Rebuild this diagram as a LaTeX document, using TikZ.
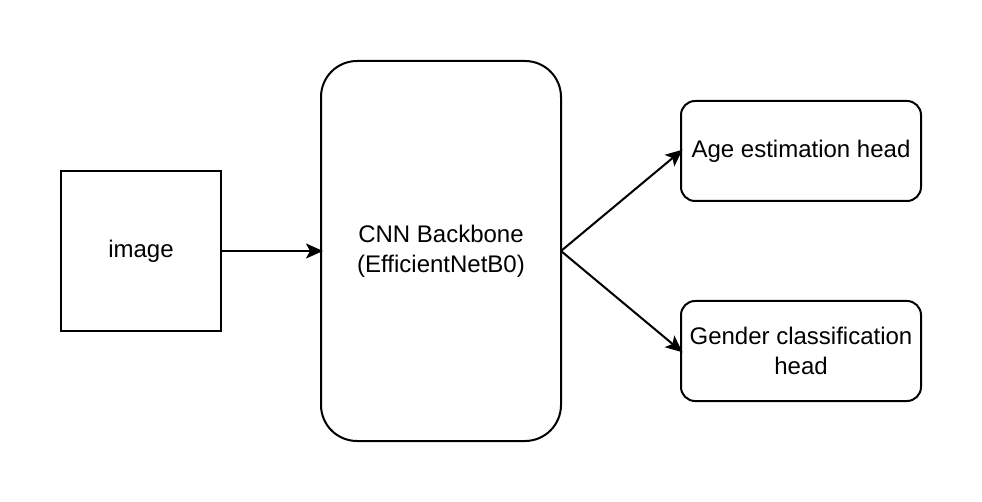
\documentclass[tikz,border=0pt]{standalone}
\usepackage{fontspec}
\setmainfont{Liberation Sans}
\usetikzlibrary{arrows.meta}
\begin{document}
\begin{tikzpicture}[x=1pt,y=-1pt,
  box/.style={draw=black,line width=2pt,fill=white,align=center,inner sep=0pt,outer sep=0pt,
    font=\fontsize{24}{30}\selectfont},
  conn/.style={line width=2pt,shorten >=-2pt,-{Stealth[length=17pt,width=15pt,inset=4pt]}}]
\useasboundingbox (0,0) rectangle (982,502);
\node[box,minimum width=160pt,minimum height=160pt] (img) at (141,251) {image};
\node[box,rounded corners=36pt,minimum width=240pt,minimum height=380pt] (cnn) at (441,251) {CNN Backbone\\(EfficientNetB0)};
\node[box,rounded corners=14pt,minimum width=240pt,minimum height=100pt] (age) at (801,151) {Age estimation head};
\node[box,rounded corners=14pt,minimum width=240pt,minimum height=100pt] (gen) at (801,351) {Gender classification\\head};
\draw[conn] (img.east) -- (cnn.west);
\draw[conn] (cnn.east) -- (age.west);
\draw[conn] (cnn.east) -- (gen.west);
\end{tikzpicture}
\end{document}
